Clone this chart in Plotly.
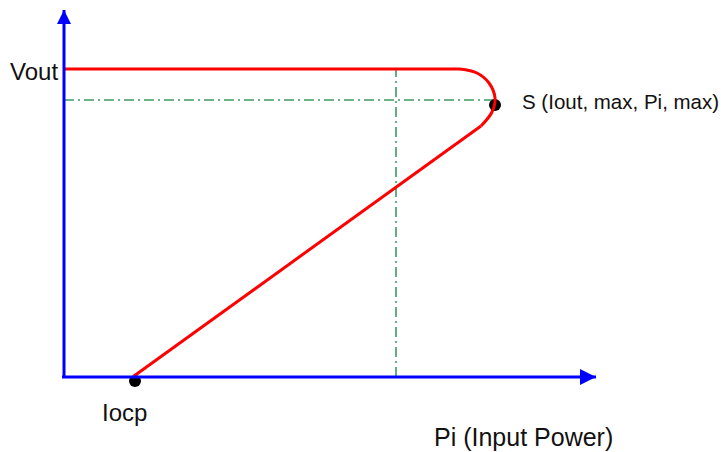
import plotly.graph_objects as go

# Coordinates are in a sketch frame: origin at the axis corner, 1 unit ~ 1 px
x_axis_x = [-2, 532]
x_axis_y = [0, 0]
y_axis_x = [0, 0]
y_axis_y = [-1, 367]

# Red Vout/Pi curve: flat part, rounded knee, falling part down to Iocp
flat_x = [0, 396]
flat_y = [308, 308]
knee_x = [396, 413, 425, 431, 428, 417]
knee_y = [308, 304, 294, 279, 265, 251]
slope_x = [417, 70]
slope_y = [251, 1]

# Green dash-dot guide lines through S
guide_h_x = [0, 431]
guide_h_y = [277, 277]
guide_v_x = [332, 332]
guide_v_y = [0, 308]

# Marked points: S and Iocp
point_x = [431, 71]
point_y = [272, -4]

labels = ["Vout", "S (Iout, max, Pi, max)", "Iocp", "Pi (Input Power)"]
label_x = [-4, 456, 60, 368]
label_y = [306, 276, -35, -60]


def figure_vout_curve():
    red = "#ff0000"
    blue = "#0000ff"
    green = "#3c9b62"
    fig = go.Figure()

    # guides first so the red curve sits on top
    for gx, gy in [(guide_h_x, guide_h_y), (guide_v_x, guide_v_y)]:
        fig.add_trace(
            go.Scatter(
                x=gx, y=gy, mode="lines",
                line=dict(color=green, width=1.6, dash="10px,4px,2px,4px"),
            )
        )

    fig.add_trace(
        go.Scatter(
            x=point_x, y=point_y, mode="markers",
            marker=dict(color="black", size=12, symbol="circle"),
        )
    )

    fig.add_trace(go.Scatter(x=flat_x, y=flat_y, mode="lines", line=dict(color=red, width=3)))
    fig.add_trace(
        go.Scatter(x=knee_x, y=knee_y, mode="lines", line=dict(color=red, width=3, shape="spline"))
    )
    fig.add_trace(go.Scatter(x=slope_x, y=slope_y, mode="lines", line=dict(color=red, width=3)))

    # axes with arrow heads
    fig.add_trace(go.Scatter(x=x_axis_x, y=x_axis_y, mode="lines", line=dict(color=blue, width=3)))
    fig.add_trace(go.Scatter(x=y_axis_x, y=y_axis_y, mode="lines", line=dict(color=blue, width=3)))
    fig.add_trace(
        go.Scatter(
            x=[x_axis_x[-1]], y=[x_axis_y[-1]], mode="markers",
            marker=dict(color=blue, size=16, symbol="arrow-right", line=dict(width=0)),
        )
    )
    fig.add_trace(
        go.Scatter(
            x=[y_axis_x[-1]], y=[y_axis_y[-1]], mode="markers",
            marker=dict(color=blue, size=14, symbol="arrow-up", line=dict(width=0)),
        )
    )

    anchors = ["right", "left", "center", "left"]
    sizes = [24, 20.5, 24, 25]  # S label is condensed in the source, so smaller here
    for text, lx, ly, xa, sz in zip(labels, label_x, label_y, anchors, sizes):
        fig.add_annotation(
            x=lx, y=ly, text=text, showarrow=False,
            xanchor=xa, yanchor="middle",
            font=dict(family="Liberation Sans, Arial", size=sz, color="#111111"),
        )

    fig.update_layout(
        width=721,
        height=452,
        margin=dict(l=0, r=0, t=0, b=0),
        showlegend=False,
        plot_bgcolor="white",
        paper_bgcolor="white",
        xaxis=dict(visible=False, range=[-64, 657], fixedrange=True),
        yaxis=dict(visible=False, range=[-75, 377], fixedrange=True),
    )
    return fig


fig = figure_vout_curve()
# drop the default body margin so the 721x452 figure fills the window
fig.write_html(
    "out.html",
    config={"displayModeBar": False},
    post_script="document.body.style.margin = '0';",
)
